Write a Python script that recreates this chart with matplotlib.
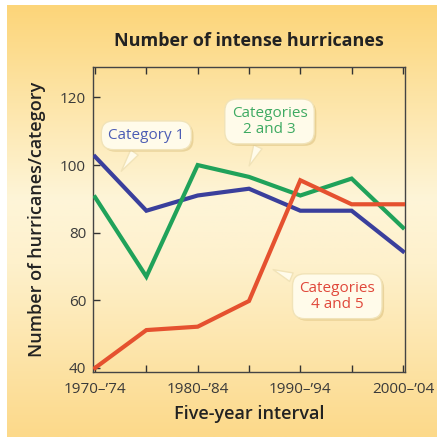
import numpy as np
import matplotlib.pyplot as plt
import matplotlib.patheffects as pe
from matplotlib.colors import LinearSegmentedColormap

# five-year intervals (start year)
years = [1970, 1975, 1980, 1985, 1990, 1995, 2000]
cat1 = [102.5, 86.5, 91, 93, 86.5, 86.5, 74.5]
cat23 = [90.5, 67, 100, 96.5, 91, 96, 81.5]
cat45 = [40, 51.2, 52.2, 59.8, 95.5, 88.4, 88.4]
tick_labels = ["1970\u2013\u201974", "", "1980\u2013\u201984", "", "1990\u2013\u201994", "", "2000\u2013\u201904"]

plt.rcParams['font.family'] = ['Open Sans', 'DejaVu Sans']

fig = plt.figure(figsize=(4.37, 4.37), dpi=100)
fig.patch.set_facecolor('white')

# background gradient panel
bg = fig.add_axes([7/437, 0, 1 - 7/437, 1 - 5/437])
cmap = LinearSegmentedColormap.from_list('bg', [(0, '#fcd579'), (0.45, '#fef5d8'), (0.6, '#fef1cc'), (1, '#fcd98a')])
grad = np.linspace(0, 1, 256).reshape(-1, 1)
bg.imshow(grad, aspect='auto', cmap=cmap, extent=[0, 1, 1, 0])
bg.axis('off')

ax = fig.add_axes([93/437, 1 - 372/437, 312/437, 305/437])
ax.patch.set_alpha(0)
ax.plot(years, cat1, color='#3a3f9c', lw=3, solid_joinstyle='miter', zorder=3)
ax.plot(years, cat23, color='#20a25a', lw=3, solid_joinstyle='miter', zorder=3)
ax.plot(years, cat45, color='#e5512f', lw=3, solid_joinstyle='miter', zorder=4)

ax.set_xlim(1969.8, 2000.2)
ax.set_ylim(38.8, 129)
ax.set_xticks(years)
ax.set_xticklabels(tick_labels)
ax.set_yticks([40, 60, 80, 100, 120])
ax.tick_params(direction='in', top=True, length=5, width=1, color='#333333',
               labelsize=11, labelcolor='#3a3a3a', pad=5)
ax.tick_params(axis='x', pad=7)
for s in ax.spines.values():
    s.set_color('#444444')
    s.set_linewidth(1)

ax.set_title('Number of intense hurricanes', fontsize=13, fontweight='bold', color='#222222', pad=15)
ax.set_xlabel('Five-year interval', fontsize=13, fontweight='semibold', color='#222222', labelpad=6)
ax.set_ylabel('Number of hurricanes/category', fontsize=13, fontweight='semibold', color='#222222', labelpad=10)

box = dict(boxstyle='round,pad=0.45,rounding_size=0.8', fc='#fffbea', ec='#f1e3b8', lw=1)
arrow = dict(arrowstyle='wedge,tail_width=0.6', fc='#fffbea', ec='#f1e3b8', lw=1)
shadow = [pe.withSimplePatchShadow(offset=(1.5, -1.5), shadow_rgbFace='#c9a85a', alpha=0.35)]
notes = [
    ('Category 1', (1972.4, 97.5), (1975.0, 108.8), '#4b5cb4'),
    ('Categories\n2 and 3', (1984.9, 99.0), (1987.0, 112.9), '#3eaa62'),
    ('Categories\n4 and 5', (1987.1, 69.4), (1993.6, 61.2), '#e0473a'),
]
for txt, tip, pos, col in notes:
    t = ax.annotate(txt, xy=tip, xytext=pos, ha='center', va='center', fontsize=11,
                    color=col, linespacing=1.1, bbox=box, arrowprops=arrow, zorder=5)
    t.get_bbox_patch().set_path_effects(shadow)

plt.savefig('out.png', dpi=100)
